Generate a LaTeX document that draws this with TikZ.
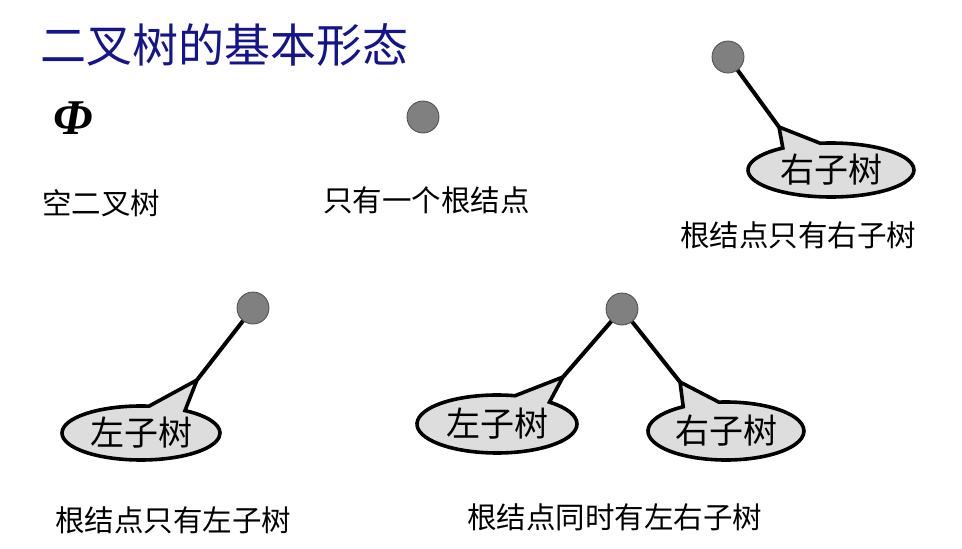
\documentclass[tikz,border=0pt]{standalone}
\usepackage{fontspec}
\setmainfont{Liberation Serif}
\newfontfamily\cjk{Noto Sans CJK SC}
\newfontfamily\phifont{Liberation Serif}
\usetikzlibrary{shapes.callouts}
\definecolor{titleblue}{RGB}{20,20,140}
\definecolor{nodegray}{RGB}{128,128,128}
\definecolor{boxgray}{RGB}{221,221,221}
\tikzset{
  treenode/.style={circle, fill=nodegray, draw=black!70, line width=0.8pt, minimum size=32pt, inner sep=0pt},
  subtree/.style={ellipse callout, fill=boxgray, draw=black, line width=3.6pt, inner sep=0pt,
    callout pointer arc=28, font=\cjk\fontsize{34}{34}\selectfont},
  edge/.style={line width=4pt, black},
  caption/.style={font=\cjk\fontsize{29.5}{29.5}\selectfont, anchor=west, inner sep=0pt}
}
\begin{document}
\begin{tikzpicture}[x=1pt,y=-1pt]
\useasboundingbox (0,0) rectangle (962,549);
\fill[white] (0,0) rectangle (962,549);
% title
\node[anchor=west, inner sep=0pt, text=titleblue, font=\cjk\fontsize{46}{46}\selectfont] (title) at (40,45) {二叉树的基本形态};
% empty tree
\node[anchor=west, inner sep=0pt, font=\phifont\bfseries\itshape\fontsize{50}{50}\selectfont] (phi) at (53,118) {Φ};
\node[caption] (c1) at (42,203) {空二叉树};
% single root
\node[treenode] (r2) at (423,117) {};
\node[caption] (c2) at (323,200) {只有一个根结点};
% right subtree only
\node[treenode] (r3) at (728,57) {};
\coordinate (t3) at (779,127);
\draw[edge] (r3) -- (t3);
\node[subtree, minimum width=166pt, minimum height=54pt, callout absolute pointer={(t3)}] (s3) at (831,170) {右子树};
\node[caption] (c3) at (680,235) {根结点只有右子树};
% left subtree only
\node[treenode] (r4) at (253,308) {};
\coordinate (t4) at (197,380);
\draw[edge] (r4) -- (t4);
\node[subtree, minimum width=158pt, minimum height=54pt, callout absolute pointer={(t4)}] (s4) at (141,433) {左子树};
\node[caption] (c4) at (55,520) {根结点只有左子树};
% both subtrees
\node[treenode] (r5) at (622,309) {};
\coordinate (t5l) at (563,377);
\coordinate (t5r) at (680,382);
\draw[edge] (r5) -- (t5l);
\draw[edge] (r5) -- (t5r);
\node[subtree, minimum width=160pt, minimum height=58pt, callout absolute pointer={(t5l)}] (s5l) at (497,424) {左子树};
\node[subtree, minimum width=156pt, minimum height=58pt, callout absolute pointer={(t5r)}] (s5r) at (726,431) {右子树};
\node[caption] (c5) at (467,517) {根结点同时有左右子树};
\end{tikzpicture}
\end{document}
